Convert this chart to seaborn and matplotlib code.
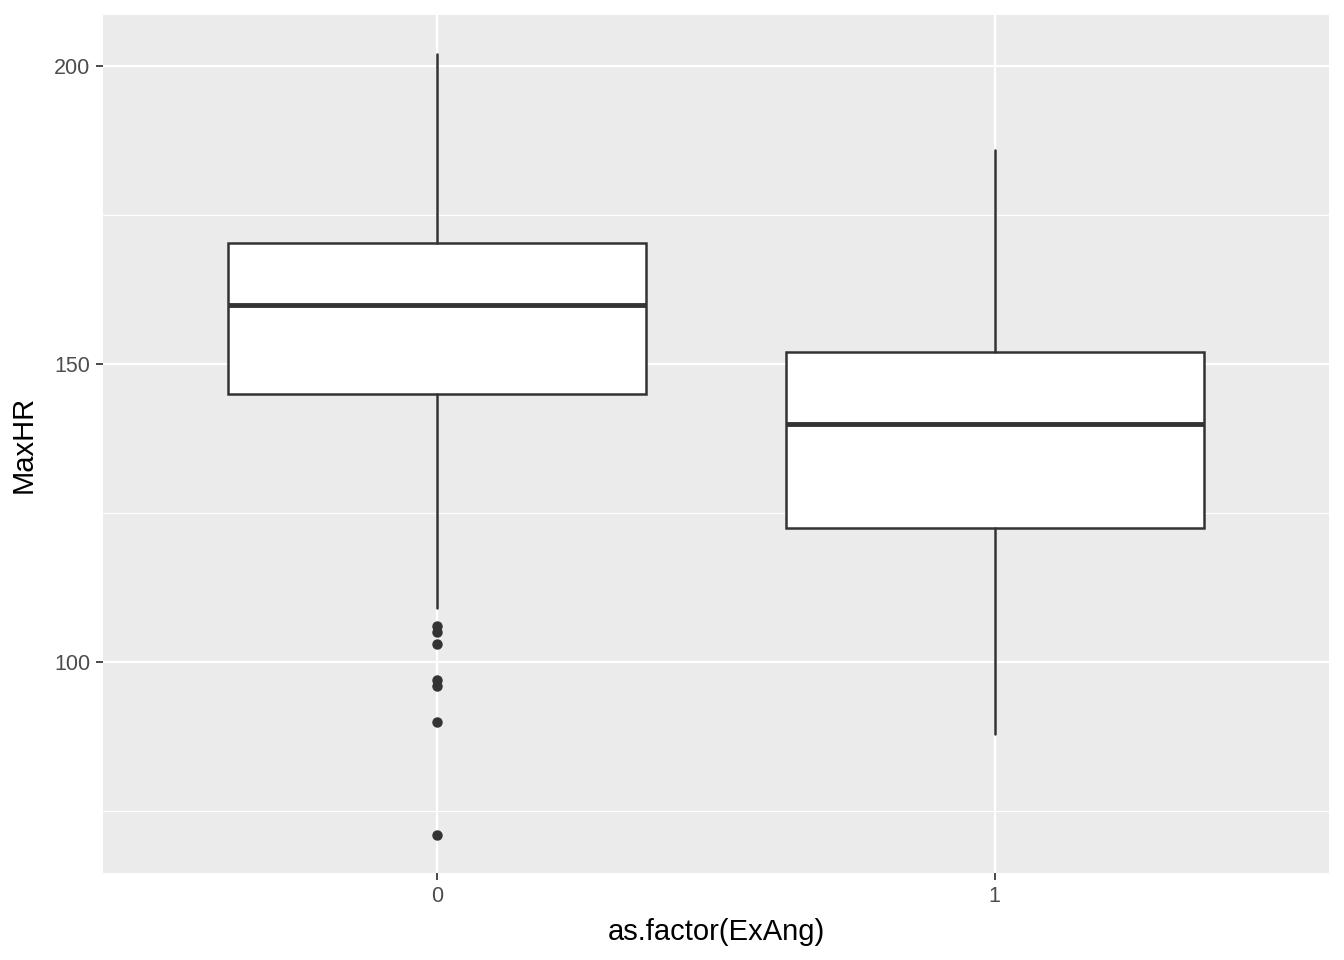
import matplotlib
matplotlib.use("Agg")
import matplotlib.pyplot as plt
import seaborn as sns

groups = ["0", "1"]
whislo = [109, 88]
q1 = [145, 122.5]
med = [160, 140]
q3 = [170.3, 152]
whishi = [202, 186]
fliers = [[106, 105, 103, 97, 96, 90, 71], []]

sns.set_theme(style="darkgrid", rc={"axes.facecolor": "#EBEBEB", "grid.color": "white"})
plt.rcParams['font.family'] = ['Liberation Sans', 'DejaVu Sans']

fig = plt.figure(figsize=(13.44, 9.6), dpi=100)
ax = fig.add_axes([103/1344, 1-873/960, (1329-103)/1344, (873-15)/960])

stats = [dict(label=g, whislo=a, q1=b, med=c, q3=d, whishi=e, fliers=f)
         for g, a, b, c, d, e, f in zip(groups, whislo, q1, med, q3, whishi, fliers)]
col = "#333333"
ax.bxp(stats, positions=[0, 1], widths=0.75, showcaps=False, patch_artist=True,
       boxprops=dict(facecolor="white", edgecolor=col, linewidth=1.8),
       medianprops=dict(color=col, linewidth=3.5),
       whiskerprops=dict(color=col, linewidth=1.8),
       flierprops=dict(marker="o", markerfacecolor=col, markeredgecolor=col, markersize=6.5))

ax.set_xlim(-0.6, 1.6)
ax.set_ylim(64.6, 208.6)
ax.set_yticks([100, 150, 200])
ax.set_yticks([75, 125, 175], minor=True)
ax.grid(True, which="major", color="white", linewidth=1.6)
ax.grid(True, which="minor", color="white", linewidth=0.8)
ax.set_axisbelow(True)
for s in ax.spines.values():
    s.set_visible(False)
ax.tick_params(axis="both", which="major", length=5, color="#333333", labelsize=15.5, labelcolor="#4D4D4D", left=True, bottom=True, pad=4)
ax.tick_params(axis="y", which="minor", length=0)
ax.set_xticks([0, 1])
ax.set_xticklabels(groups)
ax.set_xlabel("as.factor(ExAng)", fontsize=21, color="black", labelpad=8)
ax.set_ylabel("MaxHR", fontsize=21, color="black", labelpad=12)
fig.savefig("out.png", dpi=100)
